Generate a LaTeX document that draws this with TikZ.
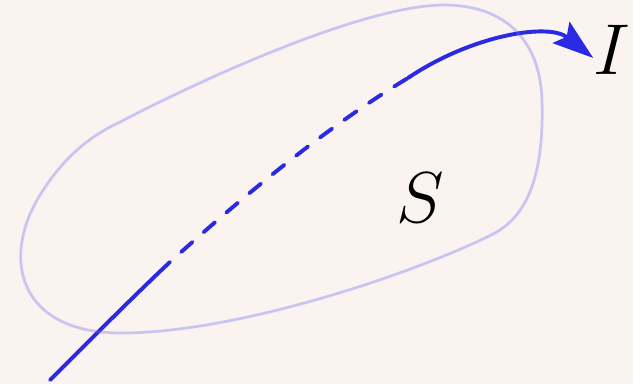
\documentclass[tikz,border=0pt]{standalone}
\usepackage{fix-cm}
\usetikzlibrary{arrows.meta,positioning}
\definecolor{paper}{HTML}{FAF3F0}
\definecolor{flow}{HTML}{2A2AE6}
\definecolor{rim}{HTML}{6A6AF0}
\tikzset{
  >={Stealth[length=8.2mm,width=5.4mm,inset=1.4mm]},
  region/.style={draw=rim, draw opacity=0.33, line width=0.55mm},
  traj/.style={draw=flow, line width=0.78mm, line cap=round},
  trajdash/.style={traj, dash pattern=on 3mm off 3mm, dash phase=3mm},
  lbl/.style={inner sep=0pt, text=black, font=\fontsize{41}{48}\selectfont},
}

\begin{document}
\begin{tikzpicture}[x=0.2mm, y=-0.2mm]
  % ---------------- page ----------------
  \fill[paper] (0,0) rectangle (633,384);
  \useasboundingbox (0,0) rectangle (633,384);

  % ---------------- labels ----------------
  \node[lbl] (S) at (420,198) {$S$};
  \node[lbl] (I) at (612,50) {$I$};

  % ---------------- trajectory ----------------
  \coordinate (start) at (50,380);
  \coordinate (enter) at (170,262);
  \coordinate (leave) at (408,78);
  \draw[traj] (start) .. controls (90,340) and (140,290) .. (enter);
  \draw[trajdash] (enter) .. controls (250,190) and (330,125) .. (leave);
  \draw[traj, ->] (leave) .. controls (470,36) and (548,22) .. ([yshift=-1.6mm]I.west);

  % ---------------- the set S ----------------
  \draw[region] (444,5) .. controls (505,5) and (540,40) .. (542,100)
    .. controls (544,170) and (530,215) .. (493,234)
    .. controls (420,271) and (240,333) .. (121,333)
    .. controls (20,333) and (0,260) .. (40,195)
    .. controls (65,155) and (92,135) .. (120,122)
    .. controls (220,70) and (370,5) .. cycle;
\end{tikzpicture}
\end{document}
